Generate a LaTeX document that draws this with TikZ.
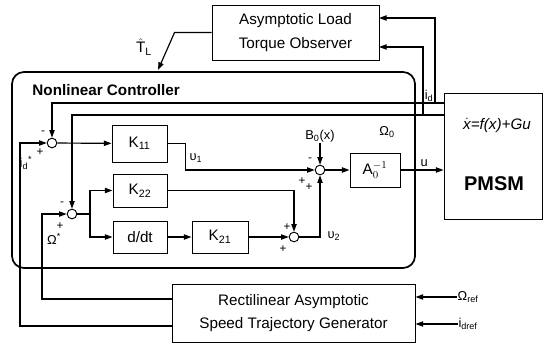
\documentclass[tikz,border=0pt]{standalone}
\usepackage{fontspec}
\setmainfont{Liberation Sans}
\usetikzlibrary{positioning,arrows.meta,calc}

\begin{document}
\begin{tikzpicture}[x=0.03cm,y=-0.03cm,>={Triangle[length=6.5pt,width=4.5pt]},line width=1pt,
  font=\fontsize{13}{20}\selectfont,
  block/.style={draw,line width=0.8pt,inner sep=0pt,align=center},
  sumj/.style={draw,circle,line width=0.8pt,minimum size=0.29cm,inner sep=0pt},
  sgn/.style={inner sep=0pt,font=\fontsize{10}{12}\selectfont},
  lbl/.style={inner sep=0pt,font=\fontsize{11}{13}\selectfont}]
  \useasboundingbox (0,0) rectangle (544,344);
  % blocks
  \node[block,minimum width=5.01cm,minimum height=1.65cm] (obs) at (295.5,32.5) {Asymptotic Load\\Torque Observer};
  \node[block,minimum width=2.94cm,minimum height=3.78cm] (pmsm) at (493,156) {};
  \node (eq) at (497,125) {\itshape$\dot{\hbox{x}}$=f(x)+Gu};
  \node[font=\bfseries\fontsize{17}{19}\selectfont] (pmsmlbl) at (494,184) {PMSM};
  \draw[line width=1.5pt,rounded corners=0.36cm] (12,72) rectangle (415,268);
  \node[anchor=west,font=\bfseries\fontsize{13}{15}\selectfont] (ctrl) at (28,90) {Nonlinear Controller};
  \node[block,minimum width=1.65cm,minimum height=1.11cm] (K11) at (139.5,143.5) {K\textsubscript{11}};
  \node[block,minimum width=1.62cm,minimum height=0.99cm] (K22) at (140,190.5) {K\textsubscript{22}};
  \node[block,minimum width=1.62cm,minimum height=0.96cm] (ddt) at (140,237) {d/dt};
  \node[block,minimum width=1.68cm,minimum height=0.96cm] (K21) at (220,237) {K\textsubscript{21}};
  \node[block,minimum width=1.5cm,minimum height=1.02cm] (A0) at (375,170) {$\mathrm{A}_0^{-1}$};
  \node[block,minimum width=7.29cm,minimum height=1.74cm] (gen) at (293.5,313) {Rectilinear Asymptotic\\Speed Trajectory Generator};
  % summing junctions
  \node[sumj] (s1) at (52,143) {};
  \node[sumj] (s2) at (72,214) {};
  \node[sumj] (s3) at (320,170) {};
  \node[sumj] (s4) at (294,237) {};
  % ports
  \coordinate (idout) at (444,103);
  \coordinate (wout) at (444,115);
  \coordinate (tap1) at (435,103);
  \coordinate (tap2) at (423,115);
  \coordinate (obsin1) at (379,18);
  \coordinate (obsin2) at (379,47);
  \coordinate (tl) at (158,70);
  \coordinate (genw) at (172,299);
  \coordinate (genid) at (172,326);
  \coordinate (split) at (90,214);
  % observer
  \draw[->] (obs.west) -- ++(-37,0) -- (tl);
  \node (tlhat) at (144,47) {$\hat{\mathrm{T}}_{\mathrm{L}}$};
  \draw[->] (tap1) |- (obsin1);
  \draw[->] (tap2) |- (obsin2);
  % feedback
  \draw[->] (idout) -| (s1);
  \draw[->] (wout) -| (s2);
  \node[lbl] (idlbl) at (429,96) {i\textsubscript{d}};
  \node[lbl] (w0lbl) at (387,132) {Ω\textsubscript{0}};
  % references
  \draw[->] (genid) -- ++(-152,0) |- (s1);
  \draw[->] (genw) -- ++(-130,0) |- (s2);
  \node[lbl] (wreflbl) at (468,297) {Ω\textsubscript{ref}};
  \node[lbl] (idreflbl) at (468,324) {i\textsubscript{dref}};
  \draw[->] (wreflbl) -- (wreflbl -| gen.east);
  \draw[->] (idreflbl) -- (idreflbl -| gen.east);
  % controller paths
  \draw[->] (s1) -- (K11);
  \draw[->] (K11.east) -- ++(18,0) |- (s3);
  \node[lbl] (v1) at (196,158) {υ\textsubscript{1}};
  \draw (s2) -- (split);
  \draw[->] (split) |- (K22);
  \draw[->] (split) |- (ddt);
  \draw[->] (ddt) -- (K21);
  \draw[->] (K22) -| (s4);
  \draw[->] (K21) -- (s4);
  \draw[->] (s4) -| (s3);
  \node[lbl] (v2) at (334,236) {υ\textsubscript{2}};
  \node[lbl] (B0) at (320,136) {B\textsubscript{0}(x)};
  \draw[->] (B0) -- (s3);
  \draw[->] (s3) -- (A0);
  \draw[->] (A0) -- (A0 -| pmsm.west) node[lbl,pos=0.55,above=2pt] (ulbl) {u};
  % signs
  \node[sgn] at (43,133) {-};
  \node[sgn] at (40,152) {+};
  \node[lbl] (idref) at (26,163) {i\textsubscript{d}\textsuperscript{*}};
  \node[sgn] at (62,204) {-};
  \node[sgn] at (60,226) {+};
  \node[lbl] (wref) at (54,239) {Ω\textsuperscript{*}};
  \node[sgn] at (310,160) {-};
  \node[sgn] at (302,181) {+};
  \node[sgn] at (309,187) {+};
  \node[sgn] at (287,227) {+};
  \node[sgn] at (283,249) {+};
\end{tikzpicture}
\end{document}
